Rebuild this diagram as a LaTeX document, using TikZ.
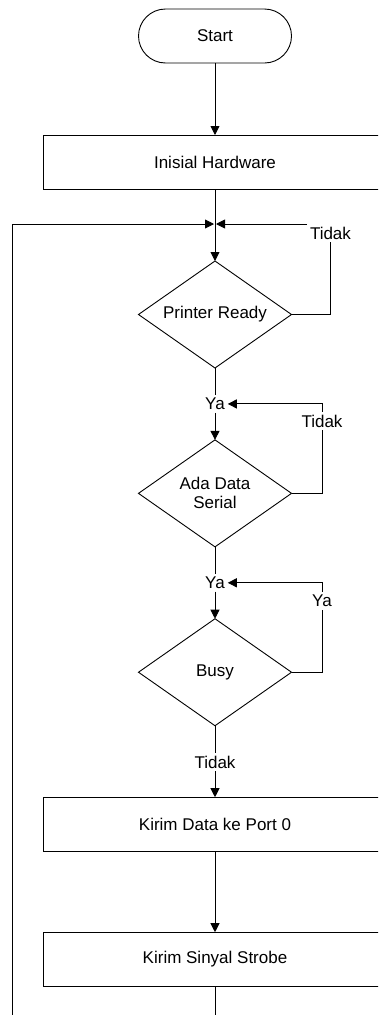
\documentclass[tikz,border=0pt]{standalone}
\usepackage{fontspec}
\setmainfont{Liberation Sans}
\usetikzlibrary{shapes.geometric,arrows.meta,positioning}

\begin{document}
\begin{tikzpicture}[x=1pt, y=-1pt, line width=0.9pt,
    font=\fontsize{17}{19}\selectfont,
    every node/.style={outer sep=0pt},
    term/.style={draw, rectangle, rounded corners=27pt, minimum width=153pt, minimum height=54pt},
    proc/.style={draw, rectangle, minimum width=344pt, minimum height=54pt},
    decide/.style={draw, diamond, aspect=1.43, inner sep=0pt, minimum width=153pt, minimum height=107pt, align=center},
    lbl/.style={inner sep=3pt},
    arr/.style={-{Triangle[length=9pt, width=9pt]}}]
  \useasboundingbox (0,0) rectangle (378,1015);
  \clip (0,0) rectangle (378,1015);
  \node[term] (start) at (215,36) {Start};
  \node[proc, below=72pt of start] (init) {Inisial Hardware};
  \coordinate[below=35pt of init] (j1);
  \node[decide, below=37pt of j1] (printer) {Printer Ready};
  \node[lbl, below=27pt of printer] (ya1) {Ya};
  \node[decide, below=27pt of ya1] (ada) {Ada Data\\Serial};
  \node[lbl, below=27pt of ada] (ya2) {Ya};
  \node[decide, below=27pt of ya2] (busy) {Busy};
  \node[lbl, below=27pt of busy] (tdk3) {Tidak};
  \node[proc, below=26pt of tdk3] (kdata) {Kirim Data ke Port 0};
  \node[proc, below=81pt of kdata] (ksinyal) {Kirim Sinyal Strobe};
  \node[lbl, anchor=north west] (tdk1) at (307,224) {Tidak};
  \node[lbl] (tdk2) at (322,421) {Tidak};
  \node[lbl] (yaR) at (322,601) {Ya};
  \coordinate (loopL) at (12,1040);

  \draw[arr] (start) -- (init);
  \draw (init) -- (j1);
  \draw[arr] (j1) -- (printer);
  \draw (printer) -- (ya1);
  \draw[arr] (ya1) -- (ada);
  \draw (ada) -- (ya2);
  \draw[arr] (ya2) -- (busy);
  \draw (busy) -- (tdk3);
  \draw[arr] (tdk3) -- (kdata);
  \draw[arr] (kdata) -- (ksinyal);

  \draw (printer.east) -| (tdk1);
  \draw[arr, shorten >=1pt] (tdk1.north west) -- (j1);
  \draw (ada.east) -| (tdk2);
  \draw[arr] (tdk2) |- (ya1);
  \draw (busy.east) -| (yaR);
  \draw[arr] (yaR) |- (ya2);
  \draw[arr, shorten >=1pt] (ksinyal) |- (loopL) |- (j1);
\end{tikzpicture}
\end{document}
